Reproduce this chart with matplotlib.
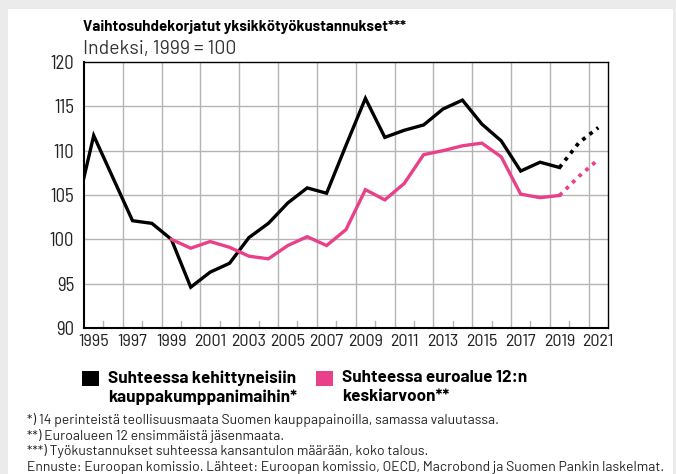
import matplotlib
matplotlib.use('Agg')
import matplotlib.pyplot as plt
from matplotlib.patches import Rectangle
import numpy as np

plt.rcParams['font.family'] = ['Barlow', 'DejaVu Sans']
tick_font = ['Barlow Semi Condensed', 'DejaVu Sans']

# Data
years = list(range(1994, 2022))
developed = [102.3, 111.7, 106.9, 102.1, 101.8, 100.0, 94.6, 96.3, 97.3, 100.2,
             101.8, 104.1, 105.8, 105.2, 110.6, 115.9, 111.5, 112.3, 112.9, 114.7,
             115.7, 113.0, 111.1, 107.7, 108.7, 108.1, 110.9, 112.6]
euro12 = [None] * 5 + [100.0, 99.0, 99.75, 99.1, 98.1, 97.8, 99.3, 100.3, 99.3,
                      101.1, 105.6, 104.45, 106.3, 109.55, 110.0, 110.55, 110.85,
                      109.3, 105.1, 104.7, 104.95, 107.1, 109.0]
last_actual = 2019
tick_years = list(range(1995, 2022, 2))

black = '#000000'
pink = '#e8418a'
grid_c = '#b4b4b4'

fig = plt.figure(figsize=(6.76, 4.74), dpi=100)
fig.patch.set_facecolor('#ebebeb')
fig.patches.append(Rectangle((8 / 676, 0), 665 / 676, 1 - 9 / 474, transform=fig.transFigure,
                             facecolor='white', edgecolor='none', zorder=-10))

ax = fig.add_axes([84 / 676, 1 - 328 / 474, 524 / 676, 266 / 474])

yrs = np.array(years, dtype=float)
dev = np.array(developed, dtype=float)
eu = np.array([np.nan if v is None else v for v in euro12], dtype=float)
hist = yrs <= last_actual
fc = yrs >= last_actual

ax.plot(yrs[hist], dev[hist], color=black, lw=2.4, solid_joinstyle='miter', zorder=3)
ax.plot(yrs[fc], dev[fc], color=black, lw=2.7, linestyle=(0, (1, 1.4)), zorder=3)
ax.plot(yrs[hist], eu[hist], color=pink, lw=2.4, solid_joinstyle='miter', zorder=3)
ax.plot(yrs[fc], eu[fc], color=pink, lw=2.7, linestyle=(0, (1, 1.4)), zorder=3)

ax.set_xlim(1994.5, 2021.5)
ax.set_ylim(90, 120)
ax.set_yticks(range(90, 121, 5))
ax.set_xticks(tick_years)
ax.set_xticklabels([str(y) for y in tick_years])
ax.tick_params(axis='both', length=0, colors='#222222')
ax.tick_params(axis='y', pad=7)
ax.tick_params(axis='x', pad=4)
for lab in ax.get_xticklabels():
    lab.set_family(tick_font)
    lab.set_fontsize(13)
for lab in ax.get_yticklabels():
    lab.set_family(tick_font)
    lab.set_fontsize(13.5)

# grid: horizontal at labels, vertical between even/odd years
for v in range(95, 120, 5):
    ax.axhline(v, color=grid_c, lw=1, zorder=1)
for x in np.arange(1996.5, 2021, 2):
    ax.axvline(x, color=grid_c, lw=1, zorder=1)
for x in np.arange(1995.5, 2021, 2):
    ax.plot([x, x], [90, 90.75], color=grid_c, lw=1, zorder=1, clip_on=False)

for s in ax.spines.values():
    s.set_color('black')
    s.set_linewidth(1.0)
ax.spines['bottom'].set_linewidth(1.5)
ax.spines['left'].set_linewidth(1.5)

fig.text(83 / 676, 1 - 27 / 474, 'Vaihtosuhdekorjatut yksikkötyökustannukset***',
         fontsize=10.8, fontweight='bold', va='center', ha='left')
fig.text(83 / 676, 1 - 49 / 474, 'Indeksi, 1999 = 100', fontsize=14,
         va='center', ha='left', color='#333333')

# legend
for x0, col, lines in [(82, black, 'Suhteessa kehittyneisiin\nkauppakumppanimaihin*'),
                       (316, pink, 'Suhteessa euroalue 12:n\nkeskiarvoon**')]:
    fig.patches.append(Rectangle((x0 / 676, 1 - 386 / 474), 17 / 676, 15 / 474,
                                 transform=fig.transFigure, facecolor=col, edgecolor='none'))
    fig.text((x0 + 26) / 676, 1 - 370 / 474, lines, fontsize=12.3, fontweight='bold',
             va='top', ha='left', linespacing=1.3)

notes = ['*) 14 perinteistä teollisuusmaata Suomen kauppapainoilla, samassa valuutassa.',
         '**) Euroalueen 12 ensimmäistä jäsenmaata.',
         '***) Työkustannukset suhteessa kansantulon määrään, koko talous.',
         'Ennuste: Euroopan komissio. Lähteet: Euroopan komissio, OECD, Macrobond ja Suomen Pankin laskelmat.']
for i, n in enumerate(notes):
    fig.text(27 / 676, 1 - (420 + 15.7 * i) / 474, n, fontsize=10, va='center', ha='left',
             color='#222222')

plt.savefig('out.png', dpi=100, facecolor=fig.get_facecolor())
